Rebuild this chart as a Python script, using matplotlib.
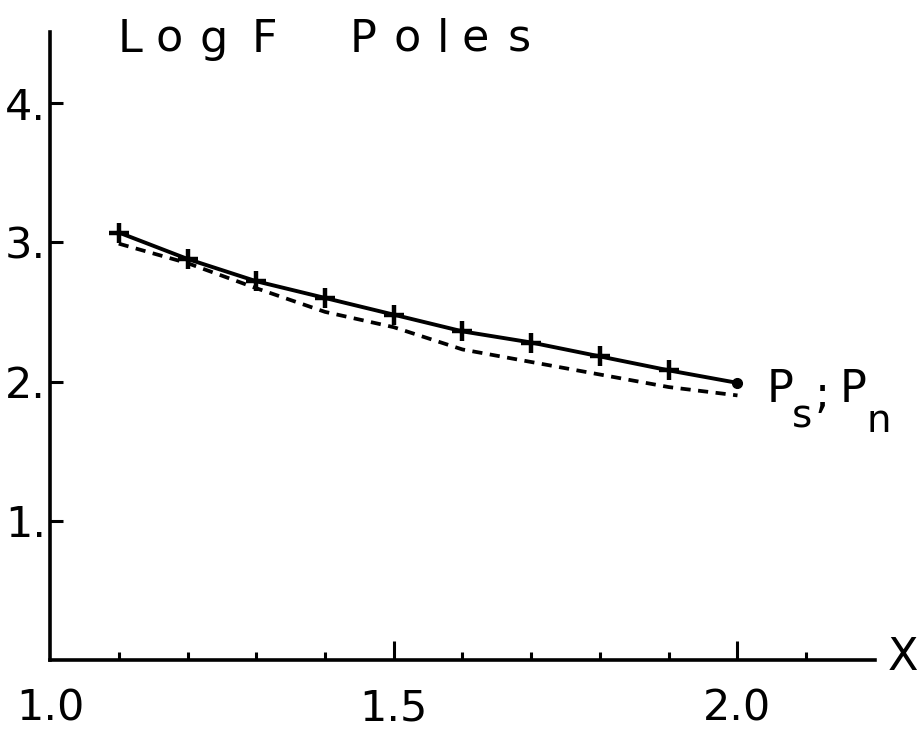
import matplotlib.pyplot as plt

# data
x_vals = [1.1, 1.2, 1.3, 1.4, 1.5, 1.6, 1.7, 1.8, 1.9, 2.0]
logf_ps = [3.07, 2.88, 2.72, 2.60, 2.48, 2.36, 2.28, 2.18, 2.08, 1.99]
logf_pn = [2.99, 2.85, 2.67, 2.50, 2.39, 2.23, 2.14, 2.05, 1.96, 1.90]

x_major = [1.0, 1.5, 2.0]
x_major_labels = ["1.0", "1.5", "2.0"]
x_minor = [1.1, 1.2, 1.3, 1.4, 1.6, 1.7, 1.8, 1.9, 2.1]
y_ticks = [1, 2, 3, 4]
y_tick_labels = ["1.", "2.", "3.", "4."]

title_chars = ["L", "o", "g", "F", "P", "o", "l", "e", "s"]
title_px = [118, 155, 199, 252, 350, 394, 437, 462, 508]

W, H = 917, 742
fig = plt.figure(figsize=(W / 100, H / 100), dpi=100)
ax = fig.add_axes([50 / W, 1 - 660 / H, (875 - 50) / W, (660 - 32) / H])

ax.plot(x_vals, logf_pn, color="black", lw=2.7, dashes=(2.7, 2.0))
ax.plot(x_vals, logf_ps, color="black", lw=2.8)
ax.plot(x_vals[:-1], logf_ps[:-1], ls="none", marker="+", ms=14, mew=3.2, color="black")
ax.plot(x_vals[-1:], logf_ps[-1:], ls="none", marker="o", ms=7, color="black")

ax.set_xlim(1.0, 2.2)
ax.set_ylim(0, (660 - 32) / 139.25)

for side in ["top", "right"]:
    ax.spines[side].set_visible(False)
for side in ["left", "bottom"]:
    ax.spines[side].set_linewidth(2.6)

ax.set_xticks(x_major)
ax.set_xticklabels(x_major_labels)
ax.set_xticks(x_minor, minor=True)
ax.set_yticks(y_ticks)
ax.set_yticklabels(y_tick_labels)

ax.tick_params(axis="x", which="major", direction="in", length=14, width=2.2, pad=20, labelsize=31)
ax.tick_params(axis="x", which="minor", direction="in", length=6, width=2.2)
ax.tick_params(axis="y", which="major", direction="in", length=9, width=2.2, pad=3, labelsize=31)
ax.xaxis.get_major_ticks()[0].tick1line.set_visible(False)

# title, one letter at a time (wide lettering)
for ch, px in zip(title_chars, title_px):
    fig.text(px / W, 1 - 52 / H, ch, fontsize=32, ha="left", va="baseline")

fig.text(903 / W, 1 - 657 / H, "X", fontsize=32, ha="center", va="center")

# curve label  P_s ; P_n
fig.text(767 / W, 1 - 402 / H, "P", fontsize=32, ha="left", va="baseline")
fig.text(792 / W, 1 - 428 / H, "s", fontsize=28, ha="left", va="baseline")
fig.text(815 / W, 1 - 408 / H, ";", fontsize=32, ha="left", va="baseline")
fig.text(840 / W, 1 - 402 / H, "P", fontsize=32, ha="left", va="baseline")
fig.text(866 / W, 1 - 432 / H, "n", fontsize=28, ha="left", va="baseline")

fig.savefig("out.png", dpi=100)
